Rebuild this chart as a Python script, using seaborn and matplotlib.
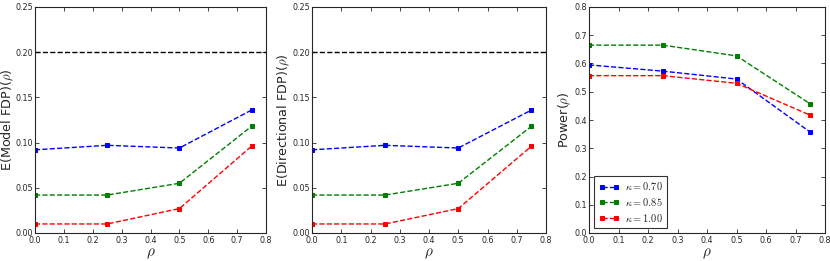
import numpy as np
import pandas as pd
import matplotlib
matplotlib.use("Agg")
import matplotlib.pyplot as plt
import seaborn as sns

# data
rho = [0.0, 0.25, 0.5, 0.75]
kappas = ["0.70", "0.85", "1.00"]
model_fdp = {
    "0.70": [0.092, 0.097, 0.094, 0.136],
    "0.85": [0.042, 0.042, 0.055, 0.118],
    "1.00": [0.010, 0.010, 0.027, 0.096],
}
directional_fdp = {
    "0.70": [0.092, 0.097, 0.094, 0.136],
    "0.85": [0.042, 0.042, 0.055, 0.118],
    "1.00": [0.010, 0.010, 0.027, 0.096],
}
power = {
    "0.70": [0.595, 0.573, 0.545, 0.357],
    "0.85": [0.665, 0.665, 0.627, 0.457],
    "1.00": [0.557, 0.557, 0.530, 0.417],
}
fdr_level = 0.2
colors = {"0.70": "#0000ff", "0.85": "#007f00", "1.00": "#ff0000"}


def to_long(d):
    rows = []
    for k in kappas:
        for r, v in zip(rho, d[k]):
            rows.append({"rho": r, "value": v, "kappa": k})
    return pd.DataFrame(rows)


sns.set_style("ticks")
plt.rcParams.update({
    "xtick.direction": "in", "ytick.direction": "in",
    "xtick.top": True, "ytick.right": True,
    "xtick.labelsize": 5.8, "ytick.labelsize": 5.8,
    "axes.linewidth": 0.8,
    "mathtext.fontset": "cm",
})

fig = plt.figure(figsize=(8.3, 2.61), dpi=100)
ax1 = fig.add_axes([35 / 830, 1 - 233 / 261, 231 / 830, 226 / 261])
ax2 = fig.add_axes([312 / 830, 1 - 233 / 261, 234 / 830, 226 / 261])
ax3 = fig.add_axes([589 / 830, 1 - 233 / 261, 236 / 830, 226 / 261])

panels = [
    (ax1, model_fdp, r"E(Model FDP)($\rho$)", -0.084),
    (ax2, directional_fdp, r"E(Directional FDP)($\rho$)", -0.086),
    (ax3, power, r"Power($\rho$)", -0.066),
]

for ax, d, ylab, lx in panels:
    df = to_long(d)
    for k in kappas:
        sub = df[df["kappa"] == k]
        sns.lineplot(data=sub, x="rho", y="value", ax=ax, color=colors[k],
                     linestyle="--", marker="s", markersize=3.5,
                     markeredgecolor=colors[k], linewidth=1.0,
                     label=r"$\kappa = %s$" % k, legend=False)
    ax.set_xlim(0, 0.8)
    ax.set_xticks(np.arange(0, 0.81, 0.1))
    ax.set_xticklabels(["%.1f" % t for t in np.arange(0, 0.81, 0.1)])
    ax.set_xlabel(r"$\rho$", fontsize=11, labelpad=1)
    ax.set_ylabel(ylab, fontsize=9.2)
    ax.yaxis.set_label_coords(lx, 0.5)
    ax.tick_params(axis="y", length=3, width=0.6, pad=1.5)
    ax.tick_params(axis="x", length=3, width=0.6, pad=2)

for ax in (ax1, ax2):
    ax.axhline(fdr_level, color="black", linestyle="--", linewidth=1.0)
    ax.set_ylim(0, 0.25)
    ax.set_yticks(np.arange(0, 0.251, 0.05))
    ax.set_yticklabels(["%.2f" % t for t in np.arange(0, 0.251, 0.05)])

ax3.set_ylim(0, 0.8)
ax3.set_yticks(np.arange(0, 0.81, 0.1))
ax3.set_yticklabels(["%.1f" % t for t in np.arange(0, 0.81, 0.1)])

leg = ax3.legend(loc="lower left", fontsize=7.5, numpoints=2, frameon=True,
                 fancybox=False, edgecolor="black", handlelength=2.0,
                 borderpad=0.4, labelspacing=0.35, handletextpad=0.6,
                 borderaxespad=0.5)
leg.get_frame().set_linewidth(0.8)

fig.savefig("out.png", dpi=100)
